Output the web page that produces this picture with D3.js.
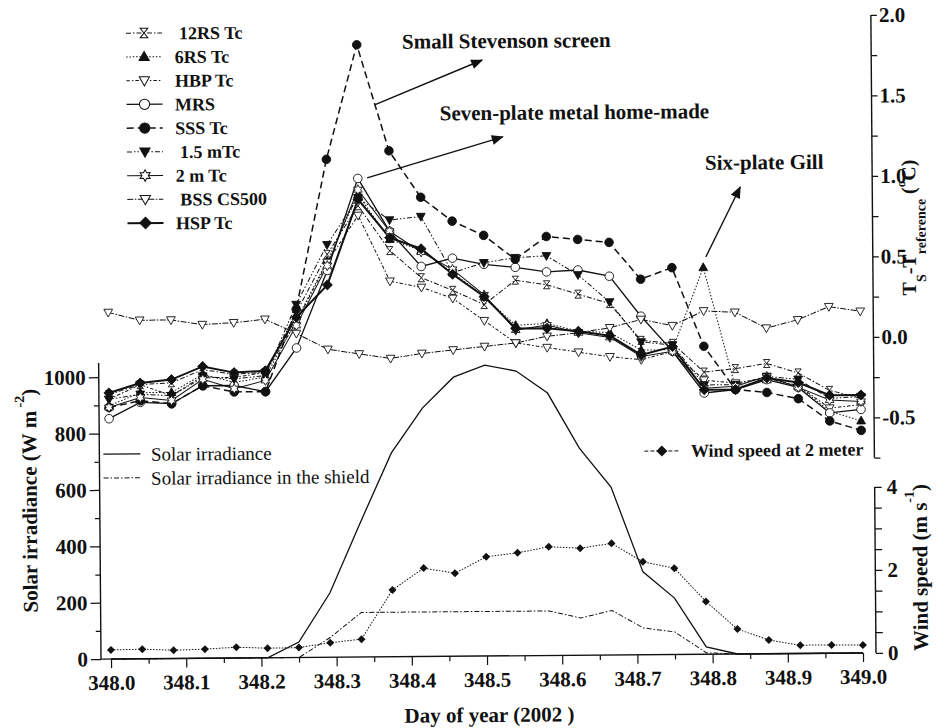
<!DOCTYPE html>
<html>
<head>
<meta charset="utf-8">
<script src="https://cdn.jsdelivr.net/npm/d3@7"></script>
<style>
  html, body { margin: 0; padding: 0; background: #fff; }
  svg { display: block; font-family: "Liberation Serif", "Times New Roman", serif; }
  text { fill: #111; }
</style>
</head>
<body>
<svg id="chart" width="950" height="728"></svg>
<script>
// Hourly observations, day of year 2002
const day = [348.0000, 348.0417, 348.0833, 348.1250, 348.1667, 348.2083, 348.2500, 348.2917,
             348.3333, 348.3750, 348.4167, 348.4583, 348.5000, 348.5417, 348.5833, 348.6250,
             348.6667, 348.7083, 348.7500, 348.7917, 348.8333, 348.8750, 348.9167, 348.9583, 349.0000];

// Shield temperature minus reference temperature (°C)
const rs12Tc   = [-0.32,-0.26,-0.25,-0.17,-0.20,-0.19, 0.18, 0.54, 0.84, 0.56, 0.39, 0.31, 0.22, 0.37, 0.34, 0.28, 0.22,-0.01,-0.03,-0.21,-0.19,-0.16,-0.22,-0.33,-0.38];
const rs6Tc    = [-0.39,-0.31,-0.31,-0.20,-0.25,-0.22, 0.13, 0.50, 0.91, 0.63, 0.56, 0.42, 0.27, 0.09, 0.10, 0.05, 0.04,-0.07,-0.07, 0.44,-0.31,-0.26,-0.30,-0.46,-0.52];
const hbpTc    = [-0.35,-0.26,-0.33,-0.22,-0.22,-0.19, 0.12, 0.49, 0.78, 0.37, 0.33, 0.26, 0.12,-0.02,-0.05,-0.08,-0.11,-0.13,-0.08,-0.26,-0.28,-0.25,-0.30,-0.44,-0.42];
const mrs      = [-0.47,-0.37,-0.38,-0.27,-0.27,-0.31,-0.04, 0.44, 1.01, 0.68, 0.46, 0.51, 0.47, 0.45, 0.42, 0.43, 0.39, 0.14,-0.08,-0.34,-0.32,-0.26,-0.31,-0.47,-0.45];
const sssTc    = [-0.40,-0.36,-0.38,-0.27,-0.31,-0.31, 0.20, 1.13, 1.84, 1.18, 0.89, 0.74, 0.65, 0.50, 0.64, 0.62, 0.60, 0.37, 0.44,-0.05,-0.32,-0.34,-0.38,-0.52,-0.58];
const m15Tc    = [-0.35,-0.32,-0.33,-0.21,-0.23,-0.21, 0.23, 0.60, 0.89, 0.75, 0.77, 0.42, 0.48, 0.51, 0.52, 0.40, 0.23,-0.02,-0.04,-0.29,-0.29,-0.24,-0.26,-0.38,-0.37];
const m2Tc     = [-0.40,-0.34,-0.36,-0.23,-0.29,-0.24, 0.10, 0.47, 0.94, 0.68, 0.55, 0.44, 0.28, 0.06, 0.09, 0.04, 0.01,-0.11,-0.08,-0.31,-0.30,-0.24,-0.31,-0.39,-0.40];
const bssCS500 = [ 0.19, 0.14, 0.14, 0.11, 0.12, 0.14, 0.05,-0.05,-0.08,-0.11,-0.08,-0.06,-0.04,-0.02, 0.02, 0.04, 0.07, 0.12, 0.08, 0.17, 0.16, 0.06, 0.11, 0.19, 0.16];
const hspTc    = [-0.31,-0.25,-0.23,-0.15,-0.19,-0.18, 0.15, 0.35, 0.88, 0.64, 0.57, 0.41, 0.27, 0.07, 0.07, 0.05, 0.02,-0.10,-0.05,-0.32,-0.32,-0.25,-0.28,-0.36,-0.36];

// Solar irradiance (W m-2) and wind speed at 2 m (m s-1)
const solar       = [0, 0, 0, 0, 0, 0, 55, 228, 479, 723, 881, 990, 1032, 1010, 931, 735, 596, 294, 200, 26, 0, 0, 0, 0, 0];
const solarShield = [0, 0, 0, 0, 0, 0, 0, 70, 158, 158, 158, 158, 158, 158, 158, 132, 158, 95, 80, 5, 0, 0, 0, 0, 0];
const wind2m      = [0.22, 0.23, 0.20, 0.22, 0.26, 0.23, 0.24, 0.35, 0.43, 1.61, 2.13, 2.00, 2.39, 2.48, 2.62, 2.58, 2.69, 2.24, 2.08, 1.27, 0.60, 0.33, 0.20, 0.20, 0.19];

// Tick values
const xTicks      = [348.0, 348.1, 348.2, 348.3, 348.4, 348.5, 348.6, 348.7, 348.8, 348.9, 349.0];
const xMinorTicks = [348.05, 348.15, 348.25, 348.35, 348.45, 348.55, 348.65, 348.75, 348.85, 348.95];
const solarTicks      = [0, 200, 400, 600, 800, 1000];
const solarMinorTicks = [100, 300, 500, 700, 900];
const tempTicks      = [-0.5, 0.0, 0.5, 1.0, 1.5, 2.0];
const tempMinorTicks = [-0.75, -0.25, 0.25, 0.75, 1.25, 1.75];
const windTicks      = [0, 2, 4];
const windMinorTicks = [0.5, 1, 1.5, 2.5, 3, 3.5];

// Series drawing styles
const tempSeries = [
  { label: " 12RS Tc",   values: rs12Tc,   dash: "5,2,1.5,2",       width: 1,   sym: "hourglass", filled: false },
  { label: "6RS Tc",     values: rs6Tc,    dash: "1.5,1.8",         width: 1,   sym: "triUp",     filled: true  },
  { label: "HBP Tc",     values: hbpTc,    dash: "3.5,2,1.5,2",     width: 1,   sym: "triDown",   filled: false },
  { label: "MRS",        values: mrs,      dash: null,              width: 1.3, sym: "circle",    filled: false },
  { label: "SSS Tc",     values: sssTc,    dash: "7,4",             width: 1.5, sym: "circle",    filled: true  },
  { label: " 1.5 mTc",   values: m15Tc,    dash: "5,2,1.5,2,1.5,2", width: 1,   sym: "triDown",   filled: true  },
  { label: "2 m Tc",     values: m2Tc,     dash: null,              width: 1,   sym: "star6",     filled: false },
  { label: " BSS CS500", values: bssCS500, dash: "6,1.5,1.5,1.5",   width: 1,   sym: "triDown",   filled: false },
  { label: "HSP Tc",     values: hspTc,    dash: null,              width: 2,   sym: "diamond",   filled: true  }
];

const ink = "#111";
const svg = d3.select("#chart");
// the whole figure sits very slightly tilted on the page
const root = svg.append("g").attr("transform", "rotate(-0.46,487,656)");

// scales
const x  = d3.scaleLinear().domain([348, 349]).range([111, 863]);
const yT = d3.scaleLinear().domain([-0.75, 2.0]).range([460.75, 18]);
const yS = d3.scaleLinear().domain([0, 1050]).range([656, 360]);
const yW = d3.scaleLinear().domain([0, 4]).range([656, 490]);

const leftX = 101, rightX = 876, baseY = 656;

function markerPath(kind, r) {
  switch (kind) {
    case "circle":  return d3.symbol(d3.symbolCircle, Math.PI * r * r)();
    case "triUp":   return `M0,${-r}L${r * 0.95},${r * 0.7}L${-r * 0.95},${r * 0.7}Z`;
    case "triDown": return `M0,${r}L${r * 0.95},${-r * 0.7}L${-r * 0.95},${-r * 0.7}Z`;
    case "diamond": return `M0,${-r}L${r},0L0,${r}L${-r},0Z`;
    case "hourglass": return `M${-r * 0.8},${-r}H${r * 0.8}L${-r * 0.8},${r}H${r * 0.8}Z`;
    case "star6": {
      const pts = d3.range(12).map(i => {
        const a = -Math.PI / 2 + i * Math.PI / 6, rr = i % 2 ? r * 0.55 : r;
        return [rr * Math.cos(a), rr * Math.sin(a)];
      });
      return "M" + pts.map(p => p.join(",")).join("L") + "Z";
    }
  }
}
const symR = { circle: 4.3, triUp: 4.6, triDown: 4.6, diamond: 5, hourglass: 4, star6: 5 };

// ---------- axes ----------
function styleAxis(g, size) {
  g.select(".domain").remove();
  g.selectAll(".tick line").attr("stroke", ink).attr("stroke-width", 1.2);
  g.selectAll(".tick text").attr("font-size", size).attr("font-weight", "bold").attr("fill", ink)
    .attr("font-family", '"Liberation Serif","Times New Roman",serif');
}
const fmt1 = d => d.toFixed(1);

// bottom
const gx = root.append("g").attr("transform", `translate(0,${baseY})`)
  .call(d3.axisBottom(x).tickValues(xTicks).tickFormat(fmt1).tickSize(9).tickPadding(7).tickSizeOuter(0));
styleAxis(gx, 21);
root.append("g").attr("transform", `translate(0,${baseY})`)
  .call(d3.axisBottom(x).tickValues(xMinorTicks).tickFormat("").tickSize(5).tickSizeOuter(0))
  .call(g => styleAxis(g, 0));
root.append("line").attr("x1", leftX).attr("x2", x(349)).attr("y1", baseY).attr("y2", baseY)
  .attr("stroke", ink).attr("stroke-width", 1.4);

// left (solar)
const gs = root.append("g").attr("transform", `translate(${leftX},0)`)
  .call(d3.axisLeft(yS).tickValues(solarTicks).tickFormat(d3.format("d")).tickSize(10).tickPadding(3).tickSizeOuter(0));
styleAxis(gs, 21);
root.append("g").attr("transform", `translate(${leftX},0)`)
  .call(d3.axisLeft(yS).tickValues(solarMinorTicks).tickFormat("").tickSize(5).tickSizeOuter(0))
  .call(g => styleAxis(g, 0));
root.append("line").attr("x1", leftX).attr("x2", leftX).attr("y1", yS.range()[0]).attr("y2", yS.range()[1])
  .attr("stroke", ink).attr("stroke-width", 1.4);

// right (temperature difference)
const gt = root.append("g").attr("transform", `translate(${rightX},0)`)
  .call(d3.axisRight(yT).tickValues(tempTicks).tickFormat(fmt1).tickSize(6).tickPadding(2).tickSizeOuter(0));
styleAxis(gt, 21);
root.append("g").attr("transform", `translate(${rightX},0)`)
  .call(d3.axisRight(yT).tickValues(tempMinorTicks).tickFormat("").tickSize(6).tickSizeOuter(0))
  .call(g => styleAxis(g, 0));
root.append("line").attr("x1", rightX).attr("x2", rightX).attr("y1", yT.range()[0]).attr("y2", yT.range()[1])
  .attr("stroke", ink).attr("stroke-width", 1.4);

// right (wind speed)
const gw = root.append("g").attr("transform", `translate(${rightX},0)`)
  .call(d3.axisRight(yW).tickValues(windTicks).tickFormat(d3.format("d")).tickSize(7).tickPadding(5).tickSizeOuter(0));
styleAxis(gw, 21);
root.append("g").attr("transform", `translate(${rightX},0)`)
  .call(d3.axisRight(yW).tickValues(windMinorTicks).tickFormat("").tickSize(7).tickSizeOuter(0))
  .call(g => styleAxis(g, 0));
root.append("line").attr("x1", rightX).attr("x2", rightX).attr("y1", yW.range()[0]).attr("y2", yW.range()[1])
  .attr("stroke", ink).attr("stroke-width", 1.4);

// ---------- axis titles ----------
root.append("text").attr("x", 489).attr("y", 722).attr("text-anchor", "middle")
  .attr("font-size", 21).attr("font-weight", "bold").text("Day of year (2002 )");

const st = root.append("text").attr("transform", "translate(38,497) rotate(-90)")
  .attr("text-anchor", "middle").attr("font-size", 21).attr("font-weight", "bold");
st.append("tspan").text("Solar irradiance (W m");
st.append("tspan").attr("dy", -12).attr("font-size", 14).text(" -2");
st.append("tspan").attr("dy", 12).text(")");

const tt = root.append("text").attr("transform", "translate(919,231) rotate(-90)")
  .attr("text-anchor", "middle").attr("font-size", 20).attr("font-weight", "bold");
tt.append("tspan").text("T");
tt.append("tspan").attr("dy", 10).attr("font-size", 14).text("S");
tt.append("tspan").attr("dy", -10).text("-T");
tt.append("tspan").attr("dy", 10).attr("font-size", 14).text("reference");
tt.append("tspan").attr("dy", -10).text(" (");
tt.append("tspan").attr("dy", -10).attr("font-size", 13).text("o");
tt.append("tspan").attr("dy", 10).text("C)");

const wt = root.append("text").attr("transform", "translate(928,571) rotate(-90)")
  .attr("text-anchor", "middle").attr("font-size", 21).attr("font-weight", "bold");
wt.append("tspan").text("Wind speed (m s");
wt.append("tspan").attr("dy", -13).attr("font-size", 14).text("-1");
wt.append("tspan").attr("dy", 13).text(")");

// ---------- solar irradiance & wind ----------
const lineS = d3.line().x((d, i) => x(day[i])).y(d => yS(d));
root.append("path").datum(solar).attr("d", lineS)
  .attr("fill", "none").attr("stroke", ink).attr("stroke-width", 1.3);
root.append("path").datum(solarShield).attr("d", lineS)
  .attr("fill", "none").attr("stroke", ink).attr("stroke-width", 1).attr("stroke-dasharray", "5,2,1.5,2");

const lineW = d3.line().x((d, i) => x(day[i])).y(d => yW(d));
root.append("path").datum(wind2m).attr("d", lineW)
  .attr("fill", "none").attr("stroke", ink).attr("stroke-width", 1).attr("stroke-dasharray", "1.5,1.5");
root.append("g").selectAll("path").data(wind2m).join("path")
  .attr("transform", (d, i) => `translate(${x(day[i])},${yW(d)})`)
  .attr("d", markerPath("diamond", 4)).attr("fill", ink);

// ---------- temperature differences ----------
const lineT = d3.line().x((d, i) => x(day[i])).y(d => yT(d));
tempSeries.forEach(s => {
  root.append("path").datum(s.values).attr("d", lineT)
    .attr("fill", "none").attr("stroke", ink).attr("stroke-width", s.width)
    .attr("stroke-dasharray", s.dash);
});
tempSeries.forEach(s => {
  root.append("g").selectAll("path").data(s.values).join("path")
    .attr("transform", (d, i) => `translate(${x(day[i])},${yT(d)})`)
    .attr("d", markerPath(s.sym, symR[s.sym]))
    .attr("fill", s.filled ? ink : "#fff").attr("stroke", ink).attr("stroke-width", 0.9);
});

// ---------- legends ----------
const leg = root.append("g");
tempSeries.forEach((s, i) => {
  const yy = 30.3 + 23.75 * i;
  leg.append("line").attr("x1", 131).attr("x2", 167).attr("y1", yy).attr("y2", yy)
    .attr("stroke", ink).attr("stroke-width", Math.max(1, s.width)).attr("stroke-dasharray", s.dash);
  leg.append("path").attr("transform", `translate(149,${yy})`)
    .attr("d", markerPath(s.sym, symR[s.sym] + 0.8))
    .attr("fill", s.filled ? ink : "#fff").attr("stroke", ink).attr("stroke-width", 1);
  leg.append("text").attr("x", 179.5).attr("y", yy + 6.5).attr("font-size", 18).attr("font-weight", "bold")
    .style("white-space", "pre").text(s.label);
});

leg.append("line").attr("x1", 105).attr("x2", 142).attr("y1", 451).attr("y2", 451)
  .attr("stroke", ink).attr("stroke-width", 1.3);
leg.append("text").attr("x", 152.5).attr("y", 458).attr("font-size", 19).text("Solar irradiance");
leg.append("line").attr("x1", 105).attr("x2", 142).attr("y1", 475).attr("y2", 475)
  .attr("stroke", ink).attr("stroke-width", 1).attr("stroke-dasharray", "5,2,1.5,2");
leg.append("text").attr("x", 152.5).attr("y", 482).attr("font-size", 19).text("Solar irradiance in the shield");

leg.append("line").attr("x1", 646).attr("x2", 682).attr("y1", 452.4).attr("y2", 452.4)
  .attr("stroke", ink).attr("stroke-width", 1).attr("stroke-dasharray", "4,2");
leg.append("path").attr("transform", "translate(663.5,452.4)").attr("d", markerPath("diamond", 5.5)).attr("fill", ink);
leg.append("text").attr("x", 692.5).attr("y", 458.5).attr("font-size", 18).attr("font-weight", "bold")
  .text("Wind speed at 2 meter");

// ---------- annotations ----------
svg.append("defs").append("marker").attr("id", "head")
  .attr("viewBox", "0 0 12 10").attr("refX", 11).attr("refY", 5)
  .attr("markerWidth", 13).attr("markerHeight", 10).attr("markerUnits", "userSpaceOnUse")
  .attr("orient", "auto")
  .append("path").attr("d", "M0,0L12,5L0,10Z").attr("fill", ink);

const notes = [
  { text: "Small Stevenson screen",      tx: 407, ty: 48,    from: [379, 104],   to: [487, 60] },
  { text: "Seven-plate metal home-made", tx: 444, ty: 120,   from: [371, 177],   to: [507, 137] },
  { text: "Six-plate Gill",              tx: 709, ty: 171.5, from: [709, 258.8], to: [744, 189] }
];
notes.forEach(n => {
  root.append("text").attr("x", n.tx).attr("y", n.ty).attr("font-size", 21).attr("font-weight", "bold").text(n.text);
  root.append("line").attr("x1", n.from[0]).attr("y1", n.from[1]).attr("x2", n.to[0]).attr("y2", n.to[1])
    .attr("stroke", ink).attr("stroke-width", 1.4).attr("marker-end", "url(#head)");
});
</script>
</body>
</html>
